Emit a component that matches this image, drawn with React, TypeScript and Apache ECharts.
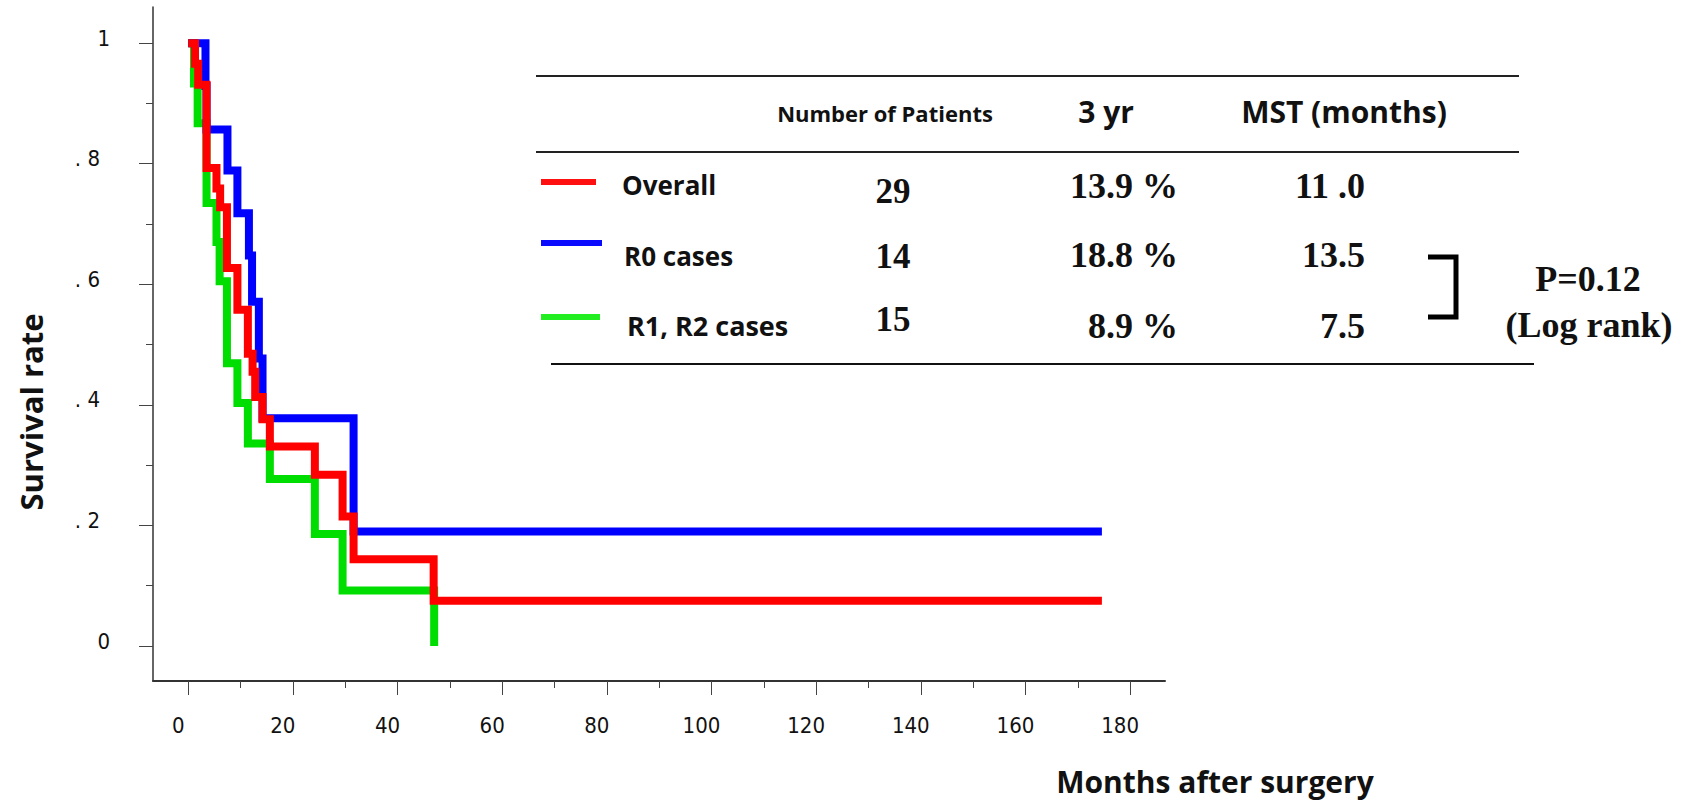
import React, { useEffect, useRef } from "react";
import * as echarts from "echarts";

// ---- Kaplan-Meier step data (months, survival) ----
const overallMonths = [0, 1.3, 1.9, 3.5, 5.4, 6.1, 7.4, 9.4, 11.4, 12.3, 12.8, 14.2, 15.6, 24.2, 29.5, 31.6, 46.9, 174.6];
const overallSurv = [1, 0.966, 0.931, 0.793, 0.759, 0.728, 0.627, 0.558, 0.485, 0.455, 0.413, 0.376, 0.331, 0.284, 0.215, 0.144, 0.075, 0.075];
const r0Months = [0, 3.3, 3.5, 7.5, 9.4, 11.6, 12.2, 13.5, 14.2, 31.6, 174.6];
const r0Surv = [1, 0.929, 0.857, 0.789, 0.718, 0.648, 0.571, 0.477, 0.378, 0.19, 0.19];
const r12Months = [0, 1.1, 1.8, 3.5, 5.4, 6.0, 7.4, 9.4, 11.4, 15.6, 24.2, 29.5, 47.0];
const r12Surv = [1, 0.933, 0.867, 0.735, 0.67, 0.605, 0.469, 0.403, 0.336, 0.277, 0.186, 0.092, 0];

// ---- axis ticks ----
const xMajorTicks = [0, 20, 40, 60, 80, 100, 120, 140, 160, 180];
const xMinorTicks = [10, 30, 50, 70, 90, 110, 130, 150, 170];
const yMajorTicks = [0, 0.2, 0.4, 0.6, 0.8, 1];
const yMinorTicks = [0.1, 0.3, 0.5, 0.7, 0.9];
const yTickLabels = ["0", ". 2", ". 4", ". 6", ". 8", "1"];

// ---- table ----
const groupNames = ["Overall", "R0 cases", "R1, R2 cases"];
const groupColors = ["#ff0000", "#0000ff", "#00dd00"];
const swatchColors = ["#ff1010", "#0a0aff", "#22ee22"];
const patientCounts = ["29", "14", "15"];
const threeYear = ["13.9 %", "18.8 %", "8.9 %"];
const mstMonths = ["11 .0", "13.5", "7.5"];
const headers = ["Number of Patients", "3 yr", "MST (months)"];
const pValue = "P=0.12";
const pTest = "(Log rank)";

const X_MIN = -6.73;
const X_MAX = 186.66;
const Y_MIN = -0.058;
const Y_MAX = 1.06;

const NARROW = "'Liberation Sans Narrow', 'DejaVu Sans Condensed', 'Roboto Condensed', 'Liberation Sans', sans-serif";
const SANS = "'Open Sans', 'Noto Sans', sans-serif";
const SERIF = "'Liberation Serif', 'Times New Roman', serif";

const pairs = (t: number[], s: number[]) => t.map((v, i) => [v, s[i]]);

export default function App() {
  const ref = useRef<HTMLDivElement>(null);
  useEffect(() => {
    if (!ref.current) return;
    const chart = echarts.init(ref.current, null, { renderer: "svg" });

    const tickStyle = { color: "#444", width: 1 };
    const curve = (name: string, data: number[][], color: string) => ({
      name,
      type: "line",
      step: "end",
      data,
      showSymbol: false,
      symbol: "none",
      xAxisIndex: 0,
      yAxisIndex: 0,
      lineStyle: { color, width: 8, join: "miter", cap: "butt" },
      silent: true,
    });

    const rowY = [185, 256, 325];
    const swatchY = [182, 243, 317];
    const patientY = [191, 256, 319];
    const valueY = [186, 255, 326];
    const graphics: any[] = [];
    // table rules
    graphics.push({ type: "line", shape: { x1: 536, y1: 76, x2: 1519, y2: 76 }, style: { stroke: "#222", lineWidth: 2 } });
    graphics.push({ type: "line", shape: { x1: 536, y1: 152, x2: 1519, y2: 152 }, style: { stroke: "#222", lineWidth: 2 } });
    graphics.push({ type: "line", shape: { x1: 551, y1: 364, x2: 1534, y2: 364 }, style: { stroke: "#111", lineWidth: 2 } });
    // headers
    graphics.push({ type: "text", x: 885, y: 113, style: { text: headers[0], fontSize: 22, fontWeight: "bold", fontFamily: SANS, fill: "#111", align: "center", verticalAlign: "middle" } });
    graphics.push({ type: "text", x: 1106, y: 111, style: { text: headers[1], fontSize: 30, fontWeight: "bold", fontFamily: SANS, fill: "#111", align: "center", verticalAlign: "middle" } });
    graphics.push({ type: "text", x: 1344, y: 111, style: { text: headers[2], fontSize: 30, fontWeight: "bold", fontFamily: SANS, fill: "#111", align: "center", verticalAlign: "middle" } });
    groupNames.forEach((g, i) => {
      const swEnd = [596, 602, 600][i];
      graphics.push({ type: "line", shape: { x1: 541, y1: swatchY[i], x2: swEnd, y2: swatchY[i] }, style: { stroke: swatchColors[i], lineWidth: 6 } });
      graphics.push({ type: "text", x: [622, 624, 627][i], y: rowY[i], style: { text: g, fontSize: i === 2 ? 27 : 26, fontWeight: "bold", fontFamily: SANS, fill: "#111", align: "left", verticalAlign: "middle" } });
      graphics.push({ type: "text", x: 893, y: patientY[i], style: { text: patientCounts[i], fontSize: 35, fontWeight: "bold", fontFamily: SERIF, fill: "#111", align: "center", verticalAlign: "middle" } });
      graphics.push({ type: "text", x: 1178, y: valueY[i], style: { text: threeYear[i], fontSize: 36, fontWeight: "bold", fontFamily: SERIF, fill: "#111", align: "right", verticalAlign: "middle" } });
      graphics.push({ type: "text", x: 1365, y: valueY[i], style: { text: mstMonths[i], fontSize: 36, fontWeight: "bold", fontFamily: SERIF, fill: "#111", align: "right", verticalAlign: "middle" } });
    });
    // bracket
    graphics.push({ type: "polyline", shape: { points: [[1428, 257], [1456, 257], [1456, 317], [1428, 317]] }, style: { stroke: "#000", lineWidth: 5, fill: null, lineJoin: "miter" } });
    graphics.push({ type: "text", x: 1588, y: 279, style: { text: pValue, fontSize: 36, fontWeight: "bold", fontFamily: SERIF, fill: "#111", align: "center", verticalAlign: "middle" } });
    graphics.push({ type: "text", x: 1589, y: 325, style: { text: pTest, fontSize: 36, fontWeight: "bold", fontFamily: SERIF, fill: "#111", align: "center", verticalAlign: "middle" } });
    // axis titles
    graphics.push({ type: "text", x: 31, y: 412, rotation: Math.PI / 2, style: { text: "Survival rate", fontSize: 31, fontWeight: "bold", fontFamily: SANS, fill: "#111", align: "center", verticalAlign: "middle" } });
    graphics.push({ type: "text", x: 1215, y: 781, style: { text: "Months after surgery", fontSize: 30, fontWeight: "bold", fontFamily: SANS, fill: "#111", align: "center", verticalAlign: "middle" } });

    const option: any = {
      animation: false,
      backgroundColor: "#ffffff",
      grid: { left: 153, top: 7, width: 1012, height: 674, containLabel: false },
      xAxis: [
        {
          type: "value",
          min: X_MIN,
          max: X_MAX,
          position: "bottom",
          offset: 0,
          axisLine: { show: true, onZero: false, lineStyle: { color: "#333", width: 2 } },
          axisTick: { show: true, length: 14, customValues: xMajorTicks, lineStyle: tickStyle },
          axisLabel: {
            customValues: xMajorTicks,
            margin: 33,
            formatter: (v: number) => `{a|${v}}`,
            rich: { a: { fontSize: 22, fontFamily: NARROW, color: "#111", padding: [0, 20, 0, 0] } },
          },
          splitLine: { show: false },
        },
        {
          type: "value",
          min: X_MIN,
          max: X_MAX,
          position: "bottom",
          offset: 0,
          axisLine: { show: false, onZero: false },
          axisTick: { show: true, length: 7, customValues: xMinorTicks, lineStyle: tickStyle },
          axisLabel: { show: false },
          splitLine: { show: false },
        },
      ],
      yAxis: [
        {
          type: "value",
          min: Y_MIN,
          max: Y_MAX,
          position: "left",
          offset: 0,
          axisLine: { show: true, onZero: false, lineStyle: { color: "#333", width: 1.5 } },
          axisTick: { show: true, length: 14, customValues: yMajorTicks, lineStyle: tickStyle },
          axisLabel: {
            customValues: yMajorTicks,
            margin: 43,
            formatter: (v: number) => {
              const idx = yMajorTicks.findIndex((t) => Math.abs(t - v) < 1e-6);
              const lab = idx >= 0 ? yTickLabels[idx] : String(v);
              return lab.startsWith(".") ? `{b|${lab}}` : `{a|${lab}}`;
            },
            rich: {
              a: { fontSize: 22, fontFamily: NARROW, color: "#111", padding: [0, 0, 10, 0] },
              b: { fontSize: 22, fontFamily: NARROW, color: "#111", padding: [0, 10, 10, 0] },
            },
          },
          splitLine: { show: false },
        },
        {
          type: "value",
          min: Y_MIN,
          max: Y_MAX,
          position: "left",
          offset: 0,
          axisLine: { show: false, onZero: false },
          axisTick: { show: true, length: 7, customValues: yMinorTicks, lineStyle: tickStyle },
          axisLabel: { show: false },
          splitLine: { show: false },
        },
      ],
      series: [
        curve("R1, R2 cases", pairs(r12Months, r12Surv), groupColors[2]),
        curve("R0 cases", pairs(r0Months, r0Surv), groupColors[1]),
        curve("Overall", pairs(overallMonths, overallSurv), groupColors[0]),
      ],
      graphic: { elements: graphics },
    };
    chart.setOption(option);
    return () => chart.dispose();
  }, []);

  return (
    <div
      ref={ref}
      style={{ position: "fixed", left: 0, top: 0, width: 1696, height: 803, background: "#fff" }}
    />
  );
}
